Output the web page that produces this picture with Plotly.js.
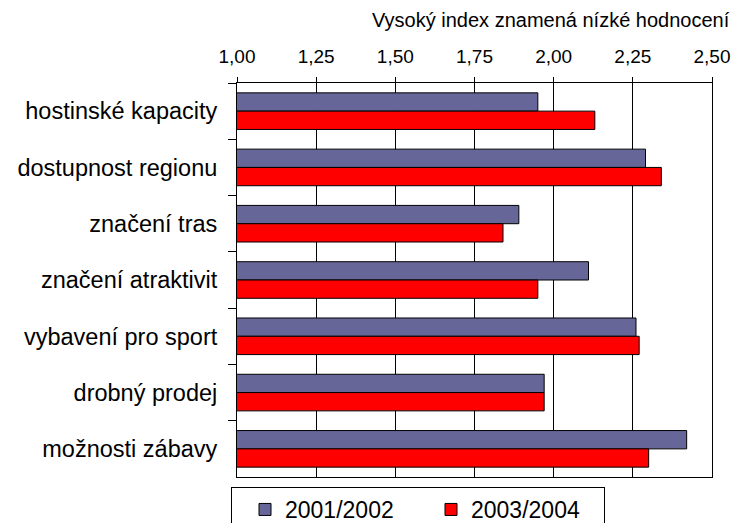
<!DOCTYPE html>
<html>
<head>
<meta charset="utf-8">
<script src="https://cdn.plot.ly/plotly-3.0.1.min.js"></script>
<style>html,body{margin:0;padding:0;background:#fff;}#chart{width:740px;height:523px;}</style>
</head>
<body>
<div id="chart"></div>
<script>
const categories = ["hostinské kapacity", "dostupnost regionu", "značení tras", "značení atraktivit", "vybavení pro sport", "drobný prodej", "možnosti zábavy"];
const series1Name = "2001/2002";
const series2Name = "2003/2004";
const values2001 = [1.95, 2.29, 1.89, 2.11, 2.26, 1.97, 2.42];
const values2003 = [2.13, 2.34, 1.84, 1.95, 2.27, 1.97, 2.30];
const xTickVals = [1.00, 1.25, 1.50, 1.75, 2.00, 2.25, 2.50];
const axisTitle = "Vysoký index znamená nízké hodnocení";

const FONT = "Liberation Sans, Arial, sans-serif";

const traces = [
  {
    type: "bar", orientation: "h", name: series1Name,
    y: categories, x: values2001,
    marker: {color: "#666699", line: {color: "#000", width: 1}},
    hoverinfo: "x+y"
  },
  {
    type: "bar", orientation: "h", name: series2Name,
    y: categories, x: values2003,
    marker: {color: "#FF0000", line: {color: "#000", width: 1}},
    hoverinfo: "x+y"
  }
];

const layout = {
  width: 740, height: 523,
  margin: {l: 237, r: 28, t: 83, b: 46, pad: 0},
  paper_bgcolor: "#fff", plot_bgcolor: "#fff",
  font: {family: FONT, color: "#000", size: 18},
  separators: ", ",
  barmode: "group",
  bargap: 0.35,
  bargroupgap: 0,
  showlegend: true,
  xaxis: {
    side: "top",
    range: [1, 2.5],
    tickvals: xTickVals,
    tickformat: ".2f",
    ticks: "outside", ticklen: 5, tickcolor: "#000", tickwidth: 1,
    ticklabelstandoff: 6,
    tickfont: {size: 19, family: FONT},
    showgrid: true, gridcolor: "#000", gridwidth: 1,
    showline: true, linecolor: "#000", linewidth: 1, mirror: true,
    zeroline: false, fixedrange: true, automargin: false
  },
  yaxis: {
    type: "category",
    autorange: "reversed",
    tickson: "boundaries",
    ticks: "outside", ticklen: 8, tickcolor: "#000", tickwidth: 1,
    ticklabelstandoff: 14,
    tickfont: {size: 23.5, family: FONT},
    showgrid: false,
    showline: true, linecolor: "#000", linewidth: 1, mirror: true,
    zeroline: false, fixedrange: true, automargin: false
  },
  legend: {
    orientation: "h",
    xref: "container", yref: "container",
    x: 231 / 740, xanchor: "left",
    y: 1 - 487 / 523, yanchor: "top",
    bordercolor: "#000", borderwidth: 1,
    bgcolor: "#fff",
    font: {size: 23, family: FONT},
    traceorder: "normal",
    indentation: 13,
    entrywidth: 128
  },
  annotations: [{
    text: axisTitle,
    xref: "paper", yref: "paper",
    x: 1.042, xanchor: "right",
    y: 1.16, yanchor: "middle",
    showarrow: false,
    font: {size: 20, family: FONT, color: "#000"}
  }]
};

Plotly.newPlot("chart", traces, layout, {displayModeBar: false, staticPlot: true});
</script>
</body>
</html>
